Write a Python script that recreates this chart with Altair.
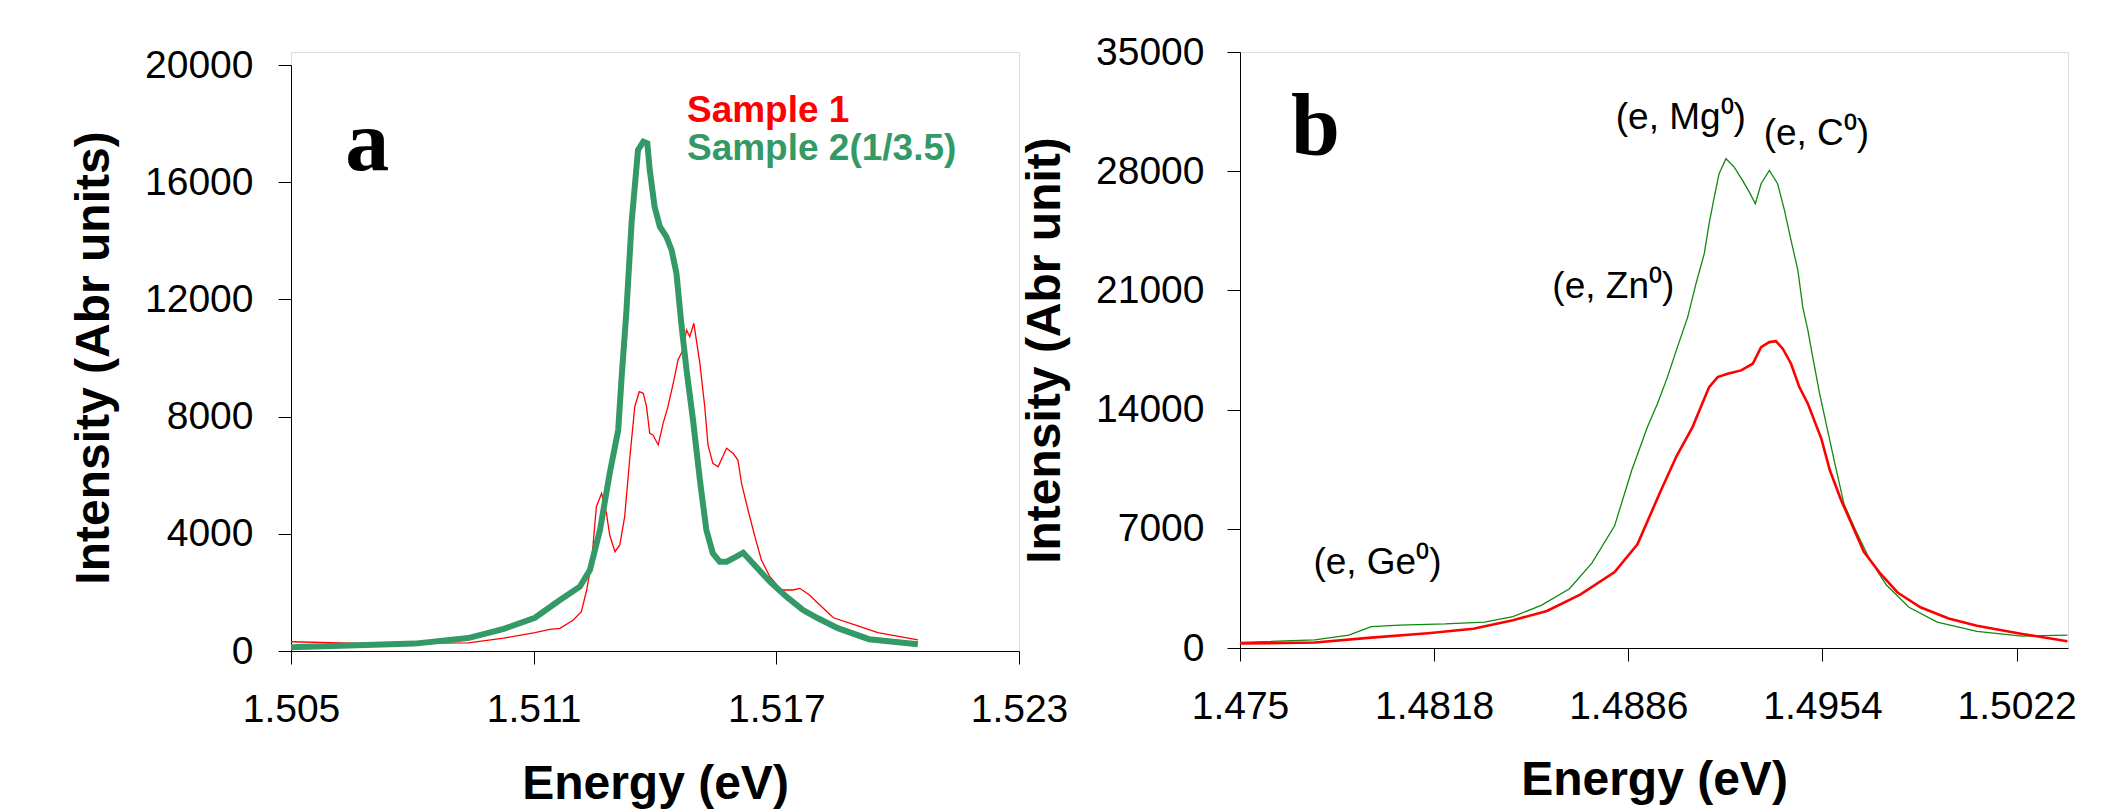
import altair as alt
import pandas as pd

# ---------------- Panel a data ----------------
a_s1_x = [1.505, 1.50696, 1.50728, 1.50938, 1.51026, 1.51103, 1.5114, 1.51165, 1.51198, 1.51218,
          1.51231, 1.51243, 1.51255, 1.51268, 1.5128, 1.51288, 1.51301, 1.51313, 1.51325, 1.51338,
          1.5135, 1.51361, 1.51371, 1.51379, 1.51387, 1.51395, 1.51408, 1.5142, 1.51432, 1.51445,
          1.51457, 1.51469, 1.51478, 1.51486, 1.51496, 1.51511, 1.51523, 1.51531, 1.51543, 1.51556,
          1.51577, 1.51593, 1.51605, 1.51614, 1.5163, 1.51647, 1.51663, 1.51684, 1.51712, 1.51741,
          1.51758, 1.51782, 1.51803, 1.51841, 1.51896, 1.51951, 1.52050]
a_s1_y = [315, 252, 263, 277, 441, 630, 740, 775, 1058, 1341,
          2082, 2993, 4925, 5382, 4700, 3959, 3389, 3618, 4584, 6631,
          8338, 8850, 8795, 8338, 7429, 7372, 7031, 7771, 8338, 9136,
          9932, 10273, 10956, 10727, 11184, 9819, 8338, 7031, 6406, 6290,
          6918, 6747, 6519, 5724, 4812, 3901, 3106, 2536, 2082, 2082,
          2139, 1911, 1627, 1134, 882, 630, 378]

a_s2_x = [1.505, 1.50806, 1.50938, 1.51026, 1.51103, 1.51165, 1.51214, 1.51239, 1.51264, 1.51288,
          1.51309, 1.51317, 1.51329, 1.51342, 1.51358, 1.51371, 1.51381, 1.51387, 1.51399, 1.51412,
          1.51428, 1.51441, 1.51453, 1.51465, 1.51478, 1.51494, 1.51511, 1.51527, 1.51543, 1.5156,
          1.51577, 1.51601, 1.51618, 1.51642, 1.51684, 1.51725, 1.51766, 1.51803, 1.51852, 1.51929,
          1.52050]
a_s2_y = [126, 252, 441, 756, 1134, 1741, 2195, 2765, 4130, 6065,
          7543, 9249, 11526, 14597, 17099, 17383, 17327, 16416, 15164, 14481,
          14140, 13686, 12890, 11184, 9590, 7884, 5836, 4130, 3334, 3048,
          3048, 3218, 3355, 2993, 2366, 1853, 1399, 1116, 780, 403,
          227]

a_xticks = [1.505, 1.511, 1.517, 1.523]
a_yticks = [0, 4000, 8000, 12000, 16000, 20000]

a_legend_text = ["Sample 1", "Sample 2(1/3.5)"]
a_legend_x = [1.51479, 1.51479]
a_legend_y = [18055, 16758]
a_legend_color = ["#FF0000", "#339966"]

# ---------------- Panel b data ----------------
b_green_x = [1.475, 1.47762, 1.47881, 1.4796, 1.48059, 1.48218, 1.48356, 1.48456, 1.48555, 1.48654,
             1.48733, 1.48812, 1.48872, 1.48927, 1.48962, 1.48997, 1.49032, 1.49068, 1.49097, 1.49126,
             1.49143, 1.49161, 1.49178, 1.49202, 1.49231, 1.4926, 1.49284, 1.49305, 1.49325, 1.49354,
             1.49383, 1.49407, 1.4943, 1.49454, 1.49471, 1.49489, 1.49506, 1.4953, 1.49553, 1.49576,
             1.49615, 1.49655, 1.49705, 1.49764, 1.49843, 1.49942, 1.50081, 1.5024, 1.50398]
b_green_y = [326, 478, 761, 1261, 1348, 1413, 1522, 1848, 2500, 3478,
             5000, 7174, 10435, 12972, 14346, 15908, 17670, 19432, 21393, 23155,
             24917, 26478, 27853, 28734, 28240, 27459, 26772, 26091, 27265, 28046,
             27265, 25697, 23935, 22174, 20019, 18650, 17083, 14933, 13172, 11400,
             8478, 6957, 5217, 3696, 2391, 1522, 978, 696, 761]

b_red_x = [1.475, 1.47762, 1.4796, 1.48158, 1.48317, 1.48456, 1.48575, 1.48693, 1.48812, 1.48892,
           1.48971, 1.4903, 1.49085, 1.49114, 1.49143, 1.49173, 1.49208, 1.49255, 1.49296, 1.49325,
           1.49354, 1.49377, 1.49401, 1.4943, 1.49459, 1.49489, 1.49518, 1.49536, 1.49566, 1.49605,
           1.49645, 1.49685, 1.49744, 1.49803, 1.49883, 1.49982, 1.50081, 1.5024, 1.50398]
b_red_y = [261, 326, 609, 870, 1130, 1630, 2174, 3152, 4457, 6087,
           9130, 11304, 12972, 14146, 15321, 15908, 16108, 16302, 16695, 17670,
           17964, 18023, 17576, 16695, 15321, 14346, 13072, 12300, 10435, 8696,
           7174, 5652, 4348, 3261, 2391, 1739, 1304, 826, 391]

b_xticks = [1.475, 1.4818, 1.4886, 1.4954, 1.5022]
b_yticks = [0, 7000, 14000, 21000, 28000, 35000]

b_ann_text = ["(e, Mg\u2070)", "(e, C\u2070)", "(e, Zn\u2070)", "(e, Ge\u2070)"]
b_ann_x = [1.48816, 1.49334, 1.48594, 1.47757]
b_ann_y = [31100, 30160, 21176, 4968]

FONT = "Liberation Sans, Arial, sans-serif"
SERIF = "Liberation Serif, Times New Roman, serif"

A_W, A_H = 728, 599
B_W, B_H = 828, 596


def make_axis(values, fmt, title, is_x, title_x, title_y, label_padding):
    kw = dict(values=values, format=fmt, title=title, grid=False,
              domainColor="#000000", domainWidth=1, tickColor="#000000", tickWidth=1, tickSize=13,
              labelFont=FONT, labelFontSize=39, labelColor="#000000", labelPadding=label_padding,
              titleFont=FONT, titleFontSize=48, titleFontWeight="bold", titleColor="#000000",
              titleX=title_x, titleY=title_y, titleAlign="center")
    if is_x:
        kw.update(titleBaseline="alphabetic", titleAngle=0, labelFlush=False)
    else:
        kw.update(titleAngle=270, titleBaseline="middle")
    return alt.Axis(**kw)


# ---- panel a ----
xa = alt.X("x:Q", scale=alt.Scale(domain=[1.505, 1.523], nice=False, zero=False),
           axis=make_axis(a_xticks, ".3f", "Energy (eV)", True, A_W / 2, 147, 26))
ya = alt.Y("y:Q", scale=alt.Scale(domain=[0, 20000], range=[599, 13], nice=False, zero=False),
           axis=make_axis(a_yticks, "d", "Intensity (Abr units)", False, -196.5, 305.5, 25))

df_a1 = pd.DataFrame({"x": a_s1_x, "y": a_s1_y})
df_a2 = pd.DataFrame({"x": a_s2_x, "y": a_s2_y})
df_aleg = pd.DataFrame({"x": a_legend_x, "y": a_legend_y, "text": a_legend_text, "c": a_legend_color})
df_alab = pd.DataFrame({"x": [1.50634], "y": [16416], "text": ["a"]})

a_red = alt.Chart(df_a1).mark_line(color="#FF0000", strokeWidth=1.3).encode(x=xa, y=ya)
a_green = alt.Chart(df_a2).mark_line(color="#339966", strokeWidth=6).encode(x=xa, y=ya)
a_leg = alt.Chart(df_aleg).mark_text(font=FONT, fontSize=37, fontWeight="bold", align="left",
                                     baseline="alphabetic").encode(
    x=xa, y=ya, text="text:N", color=alt.Color("c:N", scale=None))
a_lab = alt.Chart(df_alab).mark_text(font=SERIF, fontSize=88, fontWeight="bold", align="left",
                                     baseline="alphabetic", color="#000000").encode(x=xa, y=ya, text="text:N")

panel_a = alt.layer(a_red, a_green, a_leg, a_lab).properties(width=A_W, height=A_H)

# ---- panel b ----
xb = alt.X("x:Q", scale=alt.Scale(domain=[1.475, 1.504], nice=False, zero=False),
           axis=make_axis(b_xticks, ".4~f", "Energy (eV)", True, B_W / 2, 146, 26))
yb = alt.Y("y:Q", scale=alt.Scale(domain=[0, 35000], nice=False, zero=False),
           axis=make_axis(b_yticks, "d", "Intensity (Abr unit)", False, -194.4, B_H / 2, 23))

df_bg = pd.DataFrame({"x": b_green_x, "y": b_green_y})
df_br = pd.DataFrame({"x": b_red_x, "y": b_red_y})
df_bann = pd.DataFrame({"x": b_ann_x, "y": b_ann_y, "text": b_ann_text})
df_blab = pd.DataFrame({"x": [1.47679], "y": [28951], "text": ["b"]})

b_green = alt.Chart(df_bg).mark_line(color="#118811", strokeWidth=1.3).encode(x=xb, y=yb)
b_red = alt.Chart(df_br).mark_line(color="#FF0000", strokeWidth=2.6).encode(x=xb, y=yb)
b_ann = alt.Chart(df_bann).mark_text(font=FONT, fontSize=37, align="left", baseline="middle",
                                     color="#000000").encode(x=xb, y=yb, text="text:N")
b_lab = alt.Chart(df_blab).mark_text(font=SERIF, fontSize=88, fontWeight="bold", align="left",
                                     baseline="alphabetic", color="#000000").encode(x=xb, y=yb, text="text:N")

panel_b = alt.layer(b_green, b_red, b_ann, b_lab).properties(width=B_W, height=B_H)

chart = alt.hconcat(panel_a, panel_b, spacing=221, bounds="flush").properties(
    padding={"left": 62, "top": 24, "right": 5, "bottom": 0}
).configure_view(stroke="transparent", strokeWidth=0).configure(background="white")

chart.save("out.html", embed_options={"renderer": "svg", "actions": False})
